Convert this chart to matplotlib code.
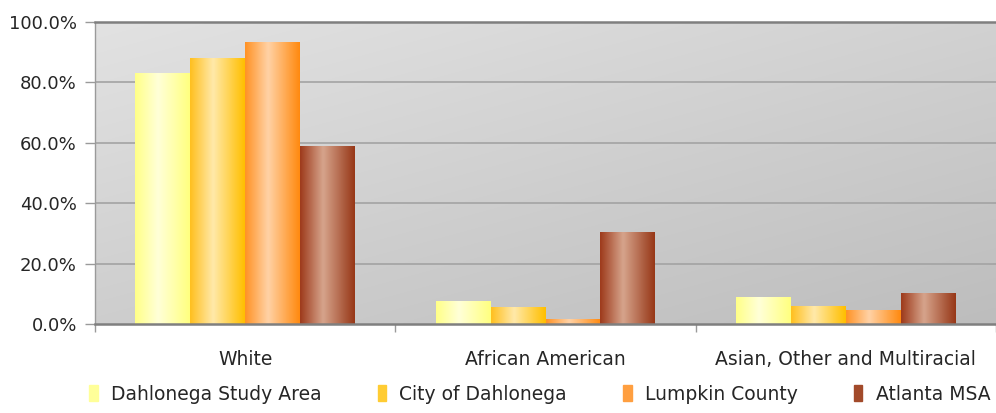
import numpy as np
import matplotlib
matplotlib.use("Agg")
import matplotlib.pyplot as plt
from matplotlib.colors import LinearSegmentedColormap
from matplotlib.patches import Rectangle
from matplotlib.ticker import FuncFormatter, FixedLocator

plt.rcParams['font.family'] = ['DejaVu Sans']

categories = ["White", "African American", "Asian, Other and Multiracial"]
series_names = ["Dahlonega Study Area", "City of Dahlonega", "Lumpkin County", "Atlanta MSA"]
study_area = [83.2, 7.7, 8.9]
city = [88.0, 5.7, 5.9]
lumpkin = [93.5, 1.8, 4.5]
atlanta = [58.9, 30.6, 10.2]
series_values = [study_area, city, lumpkin, atlanta]
y_ticks = [0, 20, 40, 60, 80, 100]

# edge / highlight / edge colours for the cylindrical shading of each series
shades = [
    ["#ffff88", "#ffffd8", "#ffff80"],
    ["#ffc020", "#ffe9aa", "#ffbf00"],
    ["#ff9326", "#ffd2a6", "#ff8a10"],
    ["#9e3b1c", "#d6a48c", "#973818"],
]
legend_colors = ["#ffff99", "#ffcc33", "#ff9f40", "#a24a2a"]

fig = plt.figure(figsize=(9.96, 4.13), dpi=100)
ax = fig.add_axes([95 / 996, (413 - 324) / 413, 901 / 996, 302 / 413])

n_series = len(series_values)
bar_w = 0.183
x = np.arange(len(categories))

# plot-area background: soft diagonal gray gradient, light at top-left
gx, gy = np.meshgrid(np.linspace(0, 1, 200), np.linspace(0, 1, 100))
bg = 0.45 * gx + 0.55 * gy
bg_cmap = LinearSegmentedColormap.from_list("bg", ["#e2e2e2", "#bdbdbd"])
ax.imshow(bg, cmap=bg_cmap, extent=[-0.5, 2.5, 0, 100], aspect="auto",
          origin="upper", zorder=0, interpolation="bicubic")

for gv in y_ticks[1:-1]:
    ax.axhline(gv, color="#a3a3a3", lw=1.2, zorder=1)

profile = np.linspace(0, 1, 64)
for i, (vals, cols) in enumerate(zip(series_values, shades)):
    offs = x + (i - (n_series - 1) / 2) * bar_w
    bars = ax.bar(offs, vals, width=bar_w, color=cols[0], linewidth=0, zorder=2,
                  label=series_names[i])
    cmap = LinearSegmentedColormap.from_list(
        f"s{i}", [(0.0, cols[0]), (0.42, cols[1]), (1.0, cols[2])])
    for b in bars:
        x0, w, h = b.get_x(), b.get_width(), b.get_height()
        im = ax.imshow(profile[None, :], cmap=cmap, extent=[x0, x0 + w, 0, h],
                       aspect="auto", zorder=3, interpolation="bicubic")
        im.set_clip_path(b)

ax.set_xlim(-0.5, 2.5)
ax.set_ylim(0, 100)

# frame: dark top and bottom rules, thin gray left side
for side in ["top", "bottom"]:
    ax.spines[side].set_color("#7f7f7f")
    ax.spines[side].set_linewidth(1.8)
ax.spines["left"].set_color("#9a9a9a")
ax.spines["left"].set_linewidth(1.0)
ax.spines["right"].set_visible(False)
for s in ax.spines.values():
    s.set_zorder(4)

ax.yaxis.set_major_locator(FixedLocator(y_ticks))
ax.yaxis.set_major_formatter(FuncFormatter(lambda v, p: f"{v:.1f}%"))
ax.tick_params(axis="y", length=7, width=1, color="#9a9a9a", labelsize=13,
               labelcolor="#262626", pad=6)

ax.set_xticks(x)
ax.set_xticklabels(categories)
ax.set_xticks([-0.5, 0.5, 1.5, 2.5], minor=True)
ax.tick_params(axis="x", which="major", length=0, labelsize=13.5,
               labelcolor="#262626", pad=19)
ax.tick_params(axis="x", which="minor", length=6, width=1, color="#9a9a9a")

handles = [Rectangle((0, 0), 1, 1, color=c) for c in legend_colors]
fig.legend(handles, series_names, loc="center", bbox_to_anchor=(0.542, 0.046),
           ncol=4, frameon=False, fontsize=13.5, handlelength=0.45, handleheight=1.0,
           handletextpad=0.7, columnspacing=3.0, labelcolor="#262626",
           borderpad=0, borderaxespad=0)

fig.savefig("out.png", dpi=100)
